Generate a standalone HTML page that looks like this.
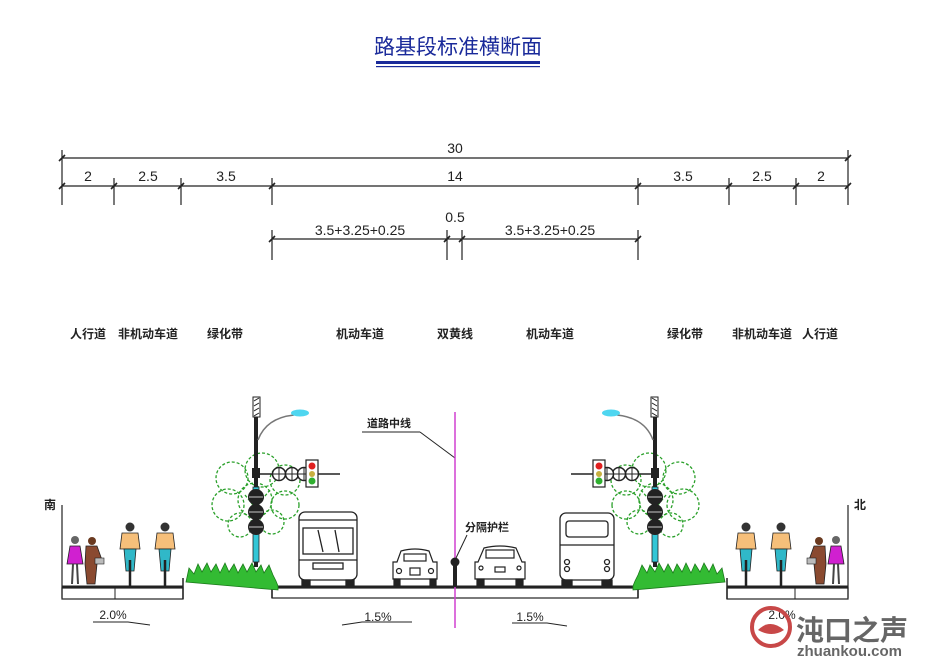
<!DOCTYPE html>
<html><head><meta charset="utf-8"><style>
html,body{margin:0;padding:0;background:#fff;}
svg{display:block}
text{font-family:"Liberation Sans","Noto Sans CJK SC",sans-serif;}
.cn{font-family:"Noto Sans CJK SC","WenQuanYi Zen Hei",sans-serif;font-weight:bold;font-size:12px;}
</style></head><body>
<svg width="935" height="661" viewBox="0 0 935 661" xmlns="http://www.w3.org/2000/svg">
<rect width="935" height="661" fill="#fff"/>
<!-- title -->
<text x="458" y="54" text-anchor="middle" font-size="21" fill="#1a2a9a" class="cn" style="font-size:21px;font-weight:normal">路基段标准横断面</text>
<rect x="376" y="61" width="164" height="3" fill="#1a2a9a"/>
<rect x="376" y="66" width="164" height="1.2" fill="#1a2a9a"/>

<!-- dimensions -->
<g stroke="#222" stroke-width="1.2" fill="none">
<line x1="62" y1="158" x2="848" y2="158"/>
<line x1="62" y1="186" x2="848" y2="186"/>
<line x1="62" y1="150" x2="62" y2="205"/>
<line x1="848" y1="150" x2="848" y2="205"/>
<line x1="114" y1="178" x2="114" y2="205"/>
<line x1="181" y1="178" x2="181" y2="205"/>
<line x1="272" y1="178" x2="272" y2="205"/>
<line x1="638" y1="178" x2="638" y2="205"/>
<line x1="729" y1="178" x2="729" y2="205"/>
<line x1="796" y1="178" x2="796" y2="205"/>
<line x1="272" y1="239" x2="447" y2="239"/>
<line x1="462" y1="239" x2="638" y2="239"/>
<line x1="447" y1="239" x2="462" y2="239"/>
<line x1="272" y1="230" x2="272" y2="260"/>
<line x1="447" y1="230" x2="447" y2="260"/>
<line x1="462" y1="230" x2="462" y2="260"/>
<line x1="638" y1="230" x2="638" y2="260"/>
</g>
<g stroke="#222" stroke-width="1.6">
<path d="M59 161l6-6M59 189l6-6M845 161l6-6M845 189l6-6M111 189l6-6M178 189l6-6M269 189l6-6M635 189l6-6M726 189l6-6M793 189l6-6M269 242l6-6M444 242l6-6M459 242l6-6M635 242l6-6"/>
</g>
<g font-size="14" fill="#222" text-anchor="middle">
<text x="455" y="153">30</text>
<text x="88" y="181">2</text><text x="148" y="181">2.5</text><text x="226" y="181">3.5</text>
<text x="455" y="181">14</text>
<text x="683" y="181">3.5</text><text x="762" y="181">2.5</text><text x="821" y="181">2</text>
<text x="455" y="222">0.5</text>
<text x="360" y="235">3.5+3.25+0.25</text>
<text x="550" y="235">3.5+3.25+0.25</text>
</g>
<!-- section labels -->
<g class="cn" fill="#222" text-anchor="middle">
<text x="88" y="338">人行道</text><text x="148" y="338">非机动车道</text><text x="225" y="338">绿化带</text>
<text x="360" y="338">机动车道</text><text x="455" y="338">双黄线</text><text x="550" y="338">机动车道</text>
<text x="685" y="338">绿化带</text><text x="762" y="338">非机动车道</text><text x="820" y="338">人行道</text>
<text x="50" y="509">南</text>
<text x="860" y="509">北</text>
<text x="389" y="427" style="font-size:11px">道路中线</text>
<text x="487" y="531" style="font-size:11px">分隔护栏</text>
</g>
<line x1="362" y1="432" x2="420" y2="432" stroke="#222"/>
<line x1="420" y1="432" x2="455" y2="458" stroke="#222"/>
<line x1="467" y1="535" x2="456" y2="558" stroke="#222"/>

<!-- ground -->
<g stroke="#222" fill="none">
<line x1="62" y1="505" x2="62" y2="598" stroke-width="1.2"/>
<line x1="848" y1="505" x2="848" y2="598" stroke-width="1.2"/>
<line x1="62" y1="587" x2="183" y2="587" stroke-width="3"/>
<rect x="62" y="588" width="121" height="11" stroke-width="1.2"/>
<line x1="115" y1="588" x2="115" y2="599"/>
<line x1="183" y1="578" x2="183" y2="599" stroke-width="1.5"/>
<line x1="272" y1="587" x2="638" y2="587" stroke-width="3"/>
<rect x="272" y="588" width="366" height="10" stroke-width="1.2"/>
<line x1="272" y1="578" x2="272" y2="598" stroke-width="1.5"/>
<line x1="638" y1="578" x2="638" y2="598" stroke-width="1.5"/>
<line x1="727" y1="587" x2="848" y2="587" stroke-width="3"/>
<rect x="727" y="588" width="121" height="11" stroke-width="1.2"/>
<line x1="795" y1="588" x2="795" y2="599"/>
<line x1="727" y1="578" x2="727" y2="599" stroke-width="1.5"/>
</g>
<line x1="455" y1="412" x2="455" y2="628" stroke="#d040d0" stroke-width="1.5"/>
<!-- slopes -->
<g font-size="12" fill="#222" text-anchor="middle">
<text x="113" y="619">2.0%</text><text x="378" y="621">1.5%</text><text x="530" y="621">1.5%</text><text x="782" y="619">2.0%</text>
</g>
<g stroke="#222" fill="none">
<path d="M93 622h35l22 3"/>
<path d="M342 625l20-3h50"/>
<path d="M512 623h35l20 3"/>
</g>

<!-- side group (left), mirrored for right -->
<defs>
<g id="side">
 <!-- tree -->
 <g stroke="#2aa02a" stroke-width="1.3" fill="none" stroke-dasharray="3 2">
  <circle cx="232" cy="478" r="16"/><circle cx="262" cy="470" r="17"/><circle cx="285" cy="480" r="15"/>
  <circle cx="228" cy="505" r="16"/><circle cx="255" cy="500" r="17"/><circle cx="285" cy="505" r="14"/>
  <circle cx="240" cy="525" r="12"/><circle cx="272" cy="522" r="12"/>
  <path d="M245 495l12 15M270 490l-10 12"/>
 </g>
 <!-- bushes -->
 <g fill="#33bb33" stroke="#1a7a1a" stroke-width="0.8">
  <path d="M186 582l3-14 5 6 4-10 4 8 5-9 4 9 5-8 4 9 5-10 4 9 5-8 4 9 5-9 4 8 5-9 4 9 5-7 3 8 5-8 4 10 3 6 2 5v4z"/>
 </g>
 <!-- pole -->
 <rect x="253" y="397" width="7" height="20" fill="#fff" stroke="#222"/>
 <path d="M254 401l5-3M254 406l5-3M254 411l5-3M254 416l5-3" stroke="#222"/>
 <rect x="254" y="417" width="4" height="150" fill="#222"/>
 <rect x="253" y="487" width="6" height="75" fill="#33c6d6" stroke="#222" stroke-width="0.8"/>
 <path d="M258 440q8-22 36-25" stroke="#777" stroke-width="1.5" fill="none"/>
 <ellipse cx="300" cy="413" rx="9" ry="3.5" fill="#4fd6f0"/>
 <line x1="256" y1="474" x2="340" y2="474" stroke="#222" stroke-width="1.5"/>
 <rect x="252" y="468" width="8" height="10" fill="#222"/>
 <g stroke="#222" stroke-width="1.5" fill="#fff">
  <circle cx="279" cy="474" r="6.5"/><circle cx="292" cy="474" r="6.5"/><circle cx="304" cy="474" r="6.5"/>
 </g>
 <path d="M273 474h37M279 468v12M292 468v12M304 468v12" stroke="#222"/>
 <rect x="306" y="460" width="12" height="27" fill="#fff" stroke="#222" stroke-width="1.2"/>
 <circle cx="312" cy="466" r="3.5" fill="#e02020"/>
 <circle cx="312" cy="474" r="3" fill="#c8b040"/>
 <circle cx="312" cy="481" r="3.5" fill="#30b030"/>
 <g fill="#222"><circle cx="256" cy="497" r="8"/><circle cx="256" cy="512" r="8"/><circle cx="256" cy="527" r="8"/></g>
 <g stroke="#fff" stroke-width="0.8" fill="none"><path d="M249 497h14M249 512h14M249 527h14"/></g>
 <!-- pedestrians -->
 <circle cx="75" cy="540" r="4" fill="#666"/>
 <path d="M70 546h10l3 18h-16z" fill="#d020d0" stroke="#222" stroke-width="0.8"/>
 <path d="M73 564l-1 20M77 564l1 20" stroke="#444" stroke-width="2"/>
 <circle cx="92" cy="541" r="4" fill="#6a3a20"/>
 <path d="M86 546h11l5 14-5 4-2 20h-8l-2-20z" fill="#8a4a30" stroke="#222" stroke-width="0.8"/>
 <rect x="95" y="558" width="9" height="6" fill="#bbb" stroke="#222" stroke-width="0.6"/>
 <!-- cyclists -->
 <g id="cy">
  <circle cx="130" cy="527" r="4.5" fill="#333"/>
  <path d="M122 533h16l2 16h-20z" fill="#f6bf7a" stroke="#222" stroke-width="0.8"/>
  <path d="M124 549h12l-2 22h-8z" fill="#30b8c8" stroke="#222" stroke-width="0.8"/>
  <line x1="130" y1="560" x2="130" y2="587" stroke="#222" stroke-width="2.5"/>
 </g>
 <use href="#cy" x="35"/>
</g>
</defs>
<use href="#side"/>
<use href="#side" transform="translate(911,0) scale(-1,1)"/>

<!-- left bus -->
<g stroke="#222" stroke-width="1.3" fill="#fff">
 <rect x="299" y="512" width="58" height="68" rx="6"/>
 <rect x="303" y="528" width="50" height="26"/>
 <line x1="299" y1="520" x2="357" y2="520"/>
 <line x1="299" y1="560" x2="357" y2="560"/>
 <rect x="313" y="563" width="30" height="6"/>
 <path d="M318 530l5 22M335 530l4 22"/>
 <rect x="302" y="580" width="8" height="6" fill="#222"/><rect x="346" y="580" width="8" height="6" fill="#222"/>
</g>
<!-- left car -->
<g stroke="#222" stroke-width="1.2" fill="#fff">
 <path d="M397 562l4-11q14-4 28 0l4 11h4v17h-44v-17z"/>
 <rect x="404" y="554" width="22" height="7"/>
 <rect x="410" y="568" width="10" height="7"/>
 <circle cx="399" cy="571" r="2.5"/><circle cx="431" cy="571" r="2.5"/>
 <rect x="394" y="579" width="6" height="6" fill="#222"/><rect x="430" y="579" width="6" height="6" fill="#222"/>
</g>
<!-- guardrail -->
<circle cx="455" cy="562" r="4.5" fill="#222"/>
<rect x="453" y="562" width="4" height="25" fill="#222"/>
<!-- right car -->
<g stroke="#222" stroke-width="1.2" fill="#fff">
 <path d="M478 562l6-14q16-4 32 0l6 14h3v17h-50v-17z"/>
 <rect x="486" y="550" width="28" height="8"/>
 <rect x="495" y="567" width="10" height="5"/>
 <circle cx="481" cy="568" r="2"/><circle cx="519" cy="568" r="2"/>
 <rect x="477" y="579" width="7" height="6" fill="#222"/><rect x="516" y="579" width="7" height="6" fill="#222"/>
</g>
<!-- right bus -->
<g stroke="#222" stroke-width="1.3" fill="#fff">
 <rect x="560" y="513" width="54" height="67" rx="6"/>
 <rect x="566" y="521" width="42" height="16" rx="3"/>
 <line x1="560" y1="545" x2="614" y2="545"/>
 <circle cx="567" cy="562" r="2.5"/><circle cx="567" cy="569" r="2.5"/>
 <circle cx="607" cy="562" r="2.5"/><circle cx="607" cy="569" r="2.5"/>
 <rect x="562" y="580" width="10" height="6" fill="#222"/><rect x="602" y="580" width="10" height="6" fill="#222"/>
</g>

<!-- watermark -->
<circle cx="771" cy="627" r="19" fill="none" stroke="#c84848" stroke-width="4"/>
<path d="M758 630q12-12 26 0q-12 8-26 0z" fill="#c84848"/>
<text x="796" y="640" font-size="28" font-weight="bold" fill="#666" class="cn" style="font-size:28px">沌口之声</text>
<text x="797" y="656" font-size="15" font-weight="bold" fill="#666" font-family="Liberation Sans">zhuankou.com</text>
</svg>
</body></html>
